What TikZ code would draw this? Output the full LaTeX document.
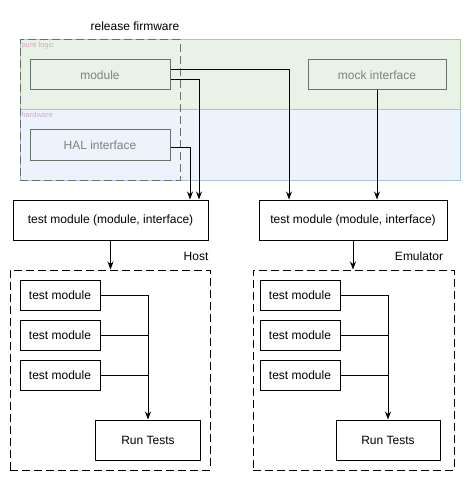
\documentclass[tikz,border=0pt]{standalone}
\usepackage{fontspec}
\setmainfont{Liberation Sans}
\usetikzlibrary{arrows.meta}
\definecolor{logicfill}{HTML}{E9F2E6}
\definecolor{logicline}{HTML}{A9CC98}
\definecolor{halfill}{HTML}{ECF3FD}
\definecolor{halline}{HTML}{A8C0E2}
\definecolor{faintbox}{HTML}{66736A}
\definecolor{fainttext}{HTML}{808080}
\definecolor{bandlabel}{HTML}{D8A8CC}
\tikzset{
  box/.style={draw,rectangle,inner sep=0,anchor=center,font=\fontsize{12}{14}\selectfont},
  srcbox/.style={box,draw=faintbox,text=fainttext},
  caption/.style={inner sep=0,anchor=center,font=\fontsize{12}{14}\selectfont},
  dashbox/.style={draw,rectangle,inner sep=0,anchor=center,dash pattern=on 8pt off 4pt},
  link/.style={-{Stealth[length=8pt,width=6pt]}},
  bandtext/.style={anchor=north west,inner sep=0,text=bandlabel,font=\fontsize{7.5}{8}\selectfont}
}
\begin{document}
\begin{tikzpicture}[x=1pt,y=-1pt,line width=1pt]
        \useasboundingbox (0,0) rectangle (471,481);
        % bands
        \fill[logicfill] (20,40) rectangle (460,110);
        \fill[halfill] (20,110) rectangle (460,180);
        \draw[halline] (20,110) rectangle (460,180);
        \draw[logicline] (20,40) rectangle (460,110);
        \node[bandtext] (logiclabel) at (21,42) {pure logic};
        \node[bandtext] (hwlabel) at (21,112) {hardware};
        \node[dashbox,draw=faintbox,minimum width=160pt,minimum height=140pt] (firmware) at (100,110) {};
        \node[caption] (firmwarelabel) at (135,26) {release firmware};
        \node[srcbox,minimum width=140pt,minimum height=30pt] (module) at (100,75) {module};
        \node[srcbox,minimum width=140pt,minimum height=30pt] (hal) at (100,145) {HAL interface};
        \node[srcbox,minimum width=138pt,minimum height=30pt] (mock) at (377,75) {mock interface};
        % test builds
        \node[box,minimum width=195pt,minimum height=40pt] (testhost) at (110.5,220) {test module (module, interface)};
        \node[box,minimum width=188pt,minimum height=40pt] (testemu) at (353,220) {test module (module, interface)};
        \draw[link] ([yshift=5pt]module.east) -| ([xshift=-64pt]testemu.north);
        \draw[link] ([yshift=-5pt]module.east) -| ([xshift=88.5pt]testhost.north);
        \draw[link] ([yshift=-3pt]hal.east) -| ([xshift=79.5pt]testhost.north);
        \draw[link] (mock.south) -- (mock.south |- testemu.north);
        % host
        \node[dashbox,minimum width=200pt,minimum height=200pt] (host) at (110,370) {};
        \node[caption] (hostlabel) at (196,256) {Host};
        \draw[link] (testhost.south) -- (testhost.south |- host.north);
        \node[box,minimum width=80pt,minimum height=30pt] (hostmodA) at (60,295) {test module};
        \node[box,minimum width=80pt,minimum height=30pt] (hostmodB) at (60,335) {test module};
        \node[box,minimum width=80pt,minimum height=30pt] (hostmodC) at (60,375) {test module};
        \node[box,minimum width=105pt,minimum height=40pt] (hostrun) at (148,440) {Run Tests};
        \draw[link] (hostmodA.east) -| (hostrun.north);
        \draw (hostmodB.east) -- (hostmodB.east -| hostrun.north);
        \draw (hostmodC.east) -- (hostmodC.east -| hostrun.north);
        % emulator
        \node[dashbox,minimum width=201pt,minimum height=200pt] (emu) at (353.5,370) {};
        \node[caption] (emulabel) at (419,256) {Emulator};
        \draw[link] (testemu.south) -- (testemu.south |- emu.north);
        \node[box,minimum width=80pt,minimum height=30pt] (emumodA) at (300,295) {test module};
        \node[box,minimum width=80pt,minimum height=30pt] (emumodB) at (300,335) {test module};
        \node[box,minimum width=80pt,minimum height=30pt] (emumodC) at (300,375) {test module};
        \node[box,minimum width=104pt,minimum height=40pt] (emurun) at (388,440) {Run Tests};
        \draw[link] (emumodA.east) -| (emurun.north);
        \draw (emumodB.east) -- (emumodB.east -| emurun.north);
        \draw (emumodC.east) -- (emumodC.east -| emurun.north);
    \end{tikzpicture}
\end{document}
